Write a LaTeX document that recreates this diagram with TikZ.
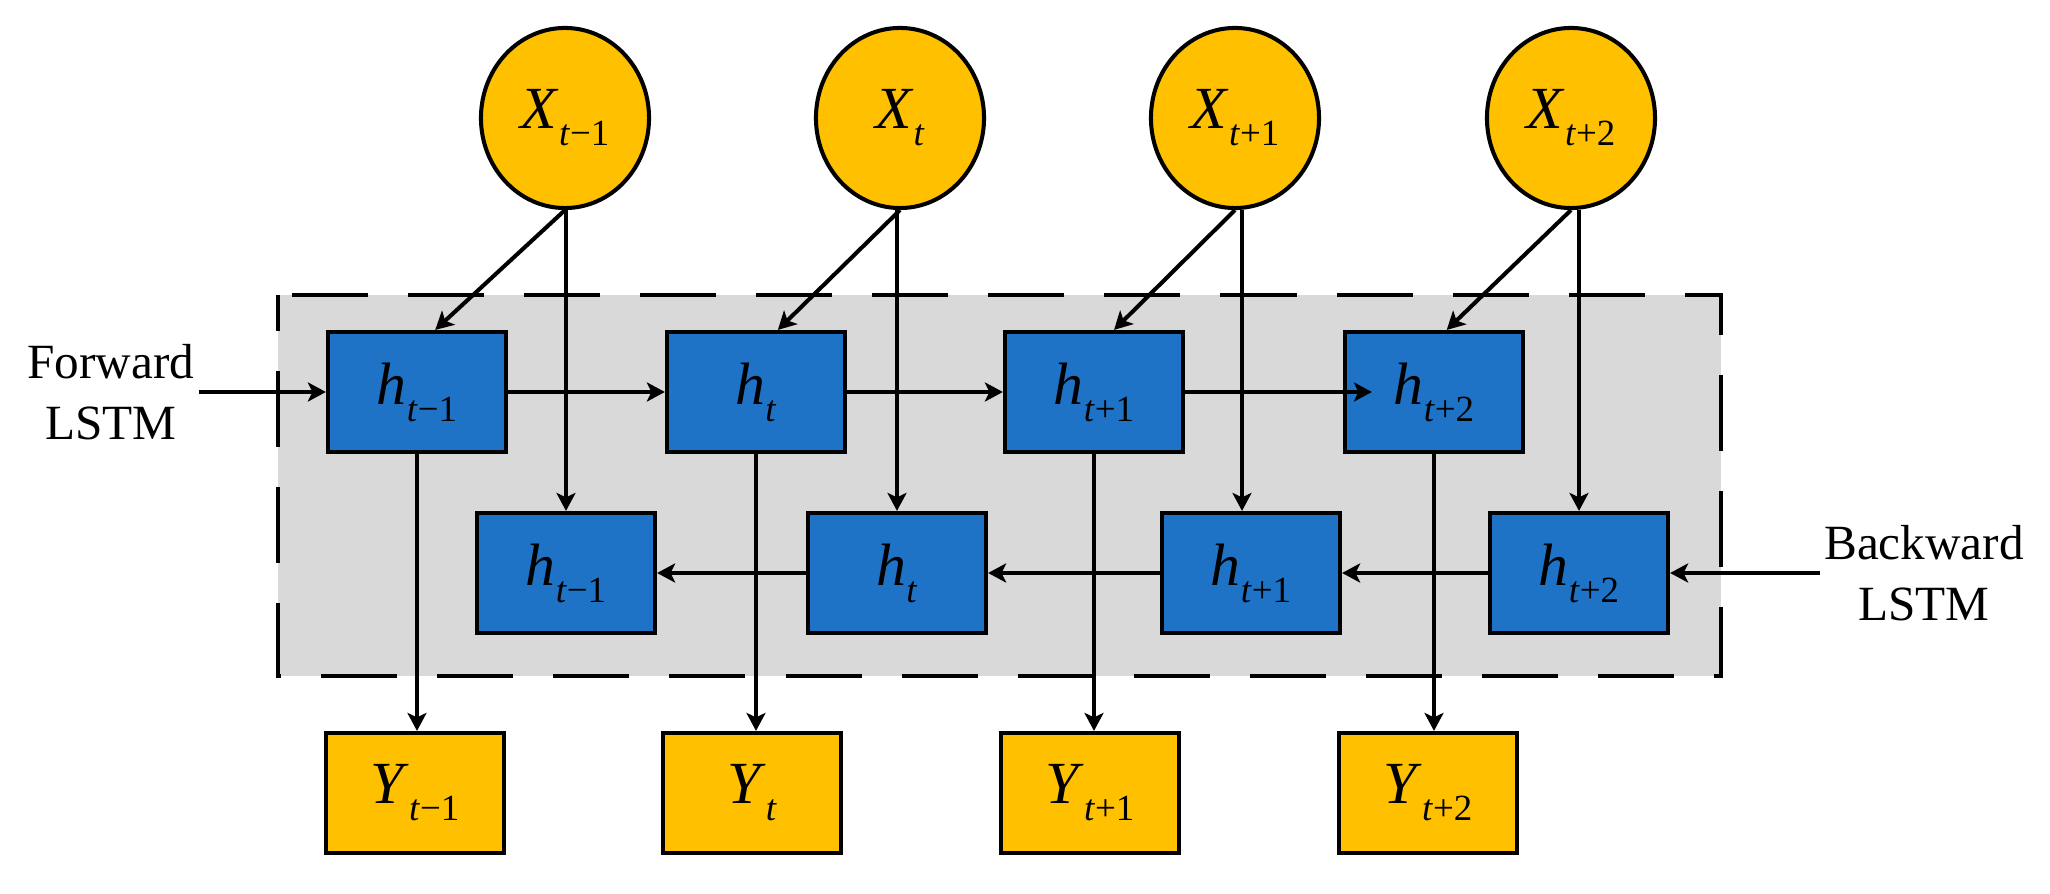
\documentclass[tikz,border=0pt]{standalone}
\usepackage{fontspec}
\setmainfont{Liberation Serif}
\usepackage{xcolor}
\usepackage{tikz}
\usetikzlibrary{arrows.meta,positioning,calc,shapes.geometric}
\definecolor{gold}{RGB}{255,192,0}
\definecolor{cellblue}{RGB}{31,115,198}
\definecolor{panel}{RGB}{217,217,217}
\newcommand{\seqlbl}[2]{\textit{#1}\raisebox{-0.17cm}{\fontsize{10.5}{12}\selectfont\textit{t}#2}}
\tikzset{
  inp/.style={draw=black, line width=1.15pt, ellipse, fill=gold, inner sep=0pt,
    minimum width=1.68cm, minimum height=1.8cm, font=\fontsize{17}{20}\selectfont},
  cell/.style={draw=black, line width=1.15pt, fill=cellblue, inner sep=0pt,
    minimum width=1.78cm, minimum height=1.2cm, font=\fontsize{17}{20}\selectfont},
  outp/.style={cell, fill=gold},
  frame/.style={draw=black, line width=1.3pt, fill=panel, dash pattern=on 0.76cm off 0.4cm, dash phase=0.4cm},
  flow/.style={draw=black, line width=1.15pt, -{Stealth[length=1.8mm,width=1.9mm,inset=0.45mm]}},
  side/.style={font=\fontsize{14}{17.5}\selectfont, align=center, inner sep=1pt}
}

\begin{document}
\begin{tikzpicture}[x=0.01cm, y=-0.01cm]
  \useasboundingbox (0,0) rectangle (2050,894);
  % grey frame
  \path[frame] (278,295) rectangle (1721,676);
  % inputs
  \node[inp] (x1) at (565,118) {\seqlbl{X}{−1}};
  \node[inp] (x2) at (900,118) {\seqlbl{X}{}};
  \node[inp] (x3) at (1235,118) {\seqlbl{X}{+1}};
  \node[inp] (x4) at (1571,118) {\seqlbl{X}{+2}};
  % forward cells
  \node[cell] (f1) at (417,392) {\seqlbl{h}{−1}};
  \node[cell] (f2) at (756,392) {\seqlbl{h}{}};
  \node[cell] (f3) at (1094,392) {\seqlbl{h}{+1}};
  \node[cell] (f4) at (1434,392) {\seqlbl{h}{+2}};
  % backward cells
  \node[cell] (b1) at (566,573) {\seqlbl{h}{−1}};
  \node[cell] (b2) at (897,573) {\seqlbl{h}{}};
  \node[cell] (b3) at (1251,573) {\seqlbl{h}{+1}};
  \node[cell] (b4) at (1579,573) {\seqlbl{h}{+2}};
  % outputs
  \node[outp] (y1) at (415,793) {\seqlbl{Y}{−1}};
  \node[outp] (y2) at (752,793) {\seqlbl{Y}{}};
  \node[outp] (y3) at (1090,793) {\seqlbl{Y}{+1}};
  \node[outp] (y4) at (1428,793) {\seqlbl{Y}{+2}};
  % side labels
  \node[side] (fw) at (111,392) {Forward\\LSTM};
  \node[side] (bw) at (1924,573) {Backward\\LSTM};

  \draw[flow] (fw.east) -- (f1.west);
  \draw[flow] (bw.west) -- (b4.east);
  % input connections
  \draw[flow] (x1.south) -- ($(f1.north west)!0.6!(f1.north east)$);
  \draw[flow] (x2.south) -- ($(f2.north west)!0.62!(f2.north east)$);
  \draw[flow] (x3.south) -- ($(f3.north west)!0.61!(f3.north east)$);
  \draw[flow] (x4.south) -- ($(f4.north west)!0.57!(f4.north east)$);
  \draw[flow] (b1.north |- x1.south) -- (b1.north);
  \draw[flow] (b2.north |- x2.south) -- (b2.north);
  \draw[flow] ($(b3.north |- x3.south)+(-9,0)$) -- ($(b3.north)+(-9,0)$);
  \draw[flow] (b4.north |- x4.south) -- (b4.north);
  % recurrent links
  \draw[flow] (f1.east) -- (f2.west);
  \draw[flow] (f2.east) -- (f3.west);
  \draw[flow, shorten >=-0.29cm] (f3.east) -- (f4.west);
  \draw[flow] (b4.west) -- (b3.east);
  \draw[flow] (b3.west) -- (b2.east);
  \draw[flow] (b2.west) -- (b1.east);
  % outputs
  \draw[flow] (f1.south) -- (f1.south |- y1.north);
  \draw[flow] (f2.south) -- (f2.south |- y2.north);
  \draw[flow] (f3.south) -- (f3.south |- y3.north);
  \draw[flow] (f4.south) -- (f4.south |- y4.north);
\end{tikzpicture}
\end{document}
